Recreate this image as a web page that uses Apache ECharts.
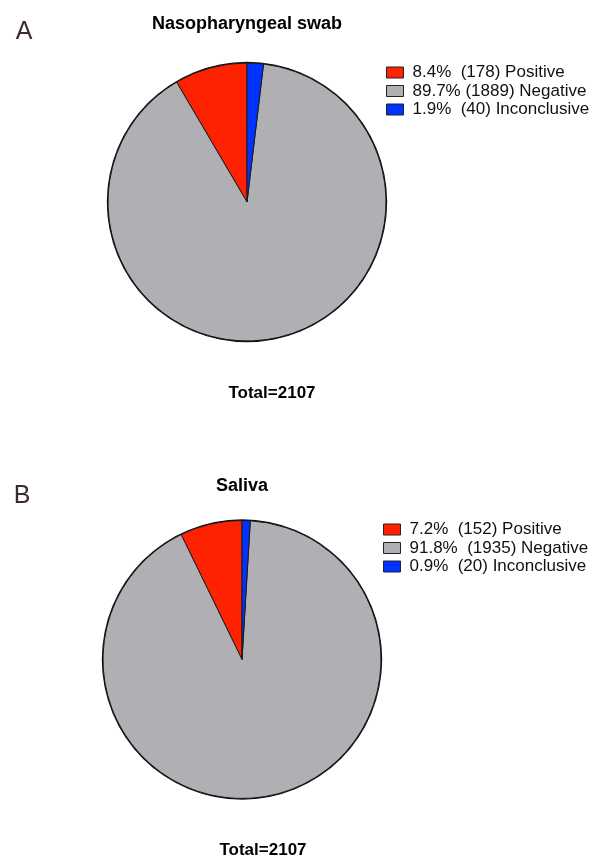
<!DOCTYPE html>
<html>
<head>
<meta charset="utf-8">
<script src="https://cdn.jsdelivr.net/npm/echarts@6/dist/echarts.min.js"></script>
<style>html,body{margin:0;padding:0;background:#fff}#c{width:589px;height:858px}</style>
</head>
<body>
<div id="c"></div>
<script>
const categories = ['Positive', 'Negative', 'Inconclusive'];
const swabCounts = [178, 1889, 40];
const swabPct = ['8.4%  ', '89.7% ', '1.9%  '];
const salivaCounts = [152, 1935, 20];
const salivaPct = ['7.2%  ', '91.8%  ', '0.9%  '];
const colors = ['#ff2200', '#b0afb4', '#0033ff'];
const titleA = 'Nasopharyngeal swab';
const titleB = 'Saliva';
const totalA = 'Total=2107';
const totalB = 'Total=2107';

const chart = echarts.init(document.getElementById('c'), null, {renderer: 'canvas'});
const FONT = 'Liberation Sans, Arial, sans-serif';

function mkData(counts) {
  return categories.map((n, i) => ({name: n, value: counts[i], itemStyle: {color: colors[i]}}));
}
function pieSeries(counts, center) {
  return {
    type: 'pie', center: center, radius: 139, startAngle: 90, clockwise: false,
    label: {show: false}, labelLine: {show: false}, silent: true,
    itemStyle: {borderColor: '#1a1a1a', borderWidth: 1},
    emphasis: {disabled: true},
    data: mkData(counts)
  };
}
function ring(center) {
  return {
    type: 'pie', center: center, radius: [139, 140.2], silent: true,
    label: {show: false}, labelLine: {show: false}, emphasis: {disabled: true},
    legendHoverLink: false,
    itemStyle: {color: '#111'}, data: [{value: 1, name: '__ring'}]
  };
}
function legend(top, left, pct, counts) {
  return {
    orient: 'vertical', top: top, left: left, itemWidth: 17, itemHeight: 11, itemGap: 1.5,
    icon: 'rect', selectedMode: false, data: categories,
    itemStyle: {borderColor: '#222', borderWidth: 1},
    textStyle: {fontFamily: FONT, fontSize: 17, lineHeight: 17, color: '#111', padding: [0, 0, 0, 4]},
    formatter: name => { const i = categories.indexOf(name); return pct[i] + '(' + counts[i] + ') ' + name; }
  };
}
function txt(x, y, s, size, weight, color) {
  return {type: 'text', x: x, y: y, style: {text: s, fontFamily: FONT, fontSize: size, fontWeight: weight, fill: color, textAlign: 'center', textVerticalAlign: 'middle'}};
}

chart.setOption({
  animation: false,
  legend: [legend(59, 381, swabPct, swabCounts), legend(516, 378, salivaPct, salivaCounts)],
  series: [pieSeries(swabCounts, [247, 202]), ring([247, 202]), pieSeries(salivaCounts, [242, 659.5]), ring([242, 659.5])],
  graphic: [
    txt(24, 32, 'A', 25, 'normal', '#3b2b33'),
    txt(22, 496, 'B', 25, 'normal', '#3b2b33'),
    txt(247, 24, titleA, 18, 'bold', '#000'),
    txt(242, 486, titleB, 18, 'bold', '#000'),
    txt(272, 393, totalA, 17, 'bold', '#000'),
    txt(263, 850, totalB, 17, 'bold', '#000')
  ]
});
</script>
</body>
</html>
